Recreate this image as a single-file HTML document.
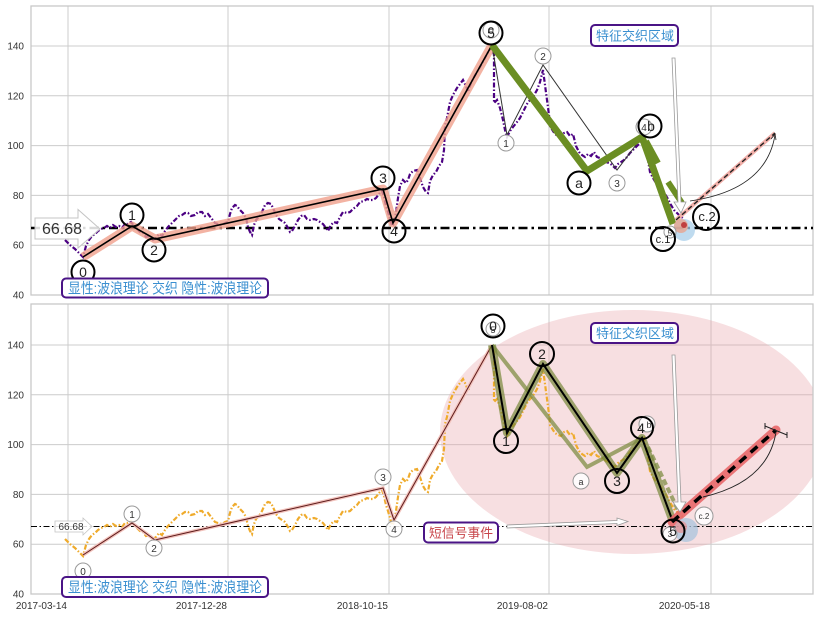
<!DOCTYPE html>
<html><head><meta charset="utf-8"><style>
html,body{margin:0;padding:0;background:#fff;}
svg{display:block;}
text{font-family:"Liberation Sans","Noto Sans CJK SC",sans-serif;}
</style></head><body>
<svg width="819" height="617" viewBox="0 0 819 617" xmlns="http://www.w3.org/2000/svg">
<defs>
<clipPath id="ct"><rect x="31" y="6" width="782" height="289"/></clipPath>
<clipPath id="cb"><rect x="31" y="304" width="782" height="290"/></clipPath>
</defs>
<rect width="819" height="617" fill="#fff"/>

<!-- ============ TOP AXES ============ -->
<g stroke="#cccccc" stroke-width="1">
<line x1="68" y1="6" x2="68" y2="295"/><line x1="228" y1="6" x2="228" y2="295"/><line x1="389" y1="6" x2="389" y2="295"/><line x1="549" y1="6" x2="549" y2="295"/><line x1="711" y1="6" x2="711" y2="295"/>
<line x1="31" y1="46" x2="813" y2="46"/><line x1="31" y1="95.8" x2="813" y2="95.8"/><line x1="31" y1="145.6" x2="813" y2="145.6"/><line x1="31" y1="195.4" x2="813" y2="195.4"/><line x1="31" y1="245.2" x2="813" y2="245.2"/>
</g>
<rect x="31" y="6" width="782" height="289" fill="none" stroke="#c8c8c8" stroke-width="1.3"/>
<g font-size="10" fill="#333" text-anchor="end">
<text x="24" y="49.5">140</text><text x="24" y="99.3">120</text><text x="24" y="149.1">100</text><text x="24" y="198.9">80</text><text x="24" y="248.7">60</text><text x="24" y="298.5">40</text>
</g>

<g clip-path="url(#ct)">
<line x1="31" y1="228" x2="813" y2="228" stroke="#000" stroke-width="2.5" stroke-dasharray="9,4,2.5,4"/>
<polyline fill="none" stroke="#4b0082" stroke-width="2.2" stroke-dasharray="5,2,1.5,2" points="65,240 70,245 75,249 80,254 83,257 86,246 89,240 92,236 95,234 98,231 101,229 104,228 107,226 110,228 113,225 116,227 119,226 122,228 125,224 128,224 131,222 134,226 137,229 140,232 143,233 146,237 150,236 153,240 156,238 159,234 162,236 165,231 168,227 172,223 176,219 179,216 182,215 185,213 188,213 191,216 195,215 198,212 202,212 205,216 208,214 212,219 215,223 218,224 222,225 225,223 228,222 230,214 232,208 235,205 237,206 240,210 243,213 246,218 248,227 250,232 252,235 254,225 256,220 259,217 262,212 265,205 268,203 271,204 273,208 276,215 279,219 282,221 285,223 288,228 290,232 292,231 295,226 298,220 301,216 304,215 307,219 310,220 314,219 317,220 320,222 323,224 326,228 328,231 331,225 334,222 337,223 340,217 343,212 347,213 350,212 353,209 357,206 360,202 364,201 367,199 370,200 373,200 376,198 379,194 382,191 384,197 386,206 388,212 390,219 392,226 394,224 396,212 398,198 400,186 403,180 406,183 408,180 410,174 413,171 417,170 420,178 423,187 426,192 428,193 430,181 433,175 436,172 439,166 442,162 444,150 445,125 447,118 450,102 453,95 457,88 460,84 463,80 466,86 468,92 471,83 474,77 477,72 480,67 484,60 487,54 490,49 492,46 494,55 494,70 494,90 494,103 497,100 500,108 503,120 505,130 507,137 510,131 513,127 517,122 520,118 523,112 527,104 530,100 533,97 537,90 540,82 543,70 545,85 547,100 549,115 550,126 553,131 555,134 558,136 561,137 564,133 567,132 570,136 573,134 576,146 579,152 582,155 585,157 588,154 591,156 594,152 597,157 600,158 603,160 606,162 609,163 612,165 615,168 618,164 621,162 624,160 627,157 630,153 633,150 636,147 639,144 642,141 644,139 646,150 648,160 650,172 653,178 656,183 659,185 662,190 665,194 668,199 671,205 674,210 677,213 680,216 683,218"/>
<polyline fill="none" stroke="#f0a08c" stroke-opacity="0.8" stroke-width="9" stroke-linejoin="round" points="83,257 132,226 155,239 383,189 393,223 492,45"/>
<polyline fill="none" stroke="#000" stroke-width="1.6" points="83,257 132,226 155,239 383,189 393,223 492,45"/>
<polyline fill="none" stroke="#333" stroke-width="1" points="492,45 507,135 543,65 617,170 642,137"/>
<polyline fill="none" stroke="#6b8e23" stroke-width="7" stroke-linejoin="miter" points="492,45 587,171 642,137 673,224"/>
<line x1="646" y1="141" x2="658" y2="163" stroke="#6b8e23" stroke-width="6"/>
<line x1="668" y1="182" x2="682" y2="203" stroke="#6b8e23" stroke-width="6"/>
<line x1="676" y1="220" x2="775" y2="133" stroke="#f2b0aa" stroke-width="4"/>
<line x1="676" y1="220" x2="775" y2="133" stroke="#222" stroke-width="1.4" stroke-dasharray="5,3"/>
<path d="M690,201 Q766,190 775,135" fill="none" stroke="#222" stroke-width="0.8"/>
<path d="M771,139 L775,134 L776,140" fill="none" stroke="#222" stroke-width="0.8"/>
<polygon points="672,58 675,58 681,202 686,202 681,213 674,202 678,202" fill="#fff" stroke="#9a9a9a" stroke-width="0.8"/>
<circle cx="684" cy="230" r="11" fill="#a9cfe9" fill-opacity="0.75"/>
<circle cx="681" cy="226" r="7" fill="#e8a48e" fill-opacity="0.8"/>
<circle cx="684" cy="225" r="3" fill="#c04040"/>
<g fill="#fff" fill-opacity="0.85" stroke="#999" stroke-width="1">
<circle cx="506" cy="143" r="8"/><circle cx="543" cy="56" r="8"/><circle cx="617" cy="183" r="8"/><circle cx="644" cy="127" r="8"/><circle cx="670" cy="232" r="6"/><circle cx="491" cy="30" r="8"/>
</g>
<g font-size="10" fill="#333" text-anchor="middle">
<text x="506" y="147">1</text><text x="543" y="60">2</text><text x="617" y="187">3</text><text x="644" y="131">4</text><text x="670" y="236" font-size="8">5</text><text x="491" y="34">0</text>
</g>
<g fill="none" stroke="#000" stroke-width="2">
<circle cx="83" cy="272" r="11.5"/><circle cx="132" cy="215" r="11.5"/><circle cx="154" cy="250" r="11.5"/><circle cx="383" cy="178" r="11.5"/><circle cx="394" cy="231" r="11.5"/><circle cx="491" cy="33" r="11.5"/>
<circle cx="579" cy="183" r="11.5"/><circle cx="650" cy="126" r="11.5"/><circle cx="663" cy="239" r="12"/><circle cx="706" cy="217" r="13"/>
</g>
<g font-size="14" fill="#222" text-anchor="middle">
<text x="83" y="277">0</text><text x="132" y="220">1</text><text x="154" y="255">2</text><text x="383" y="183">3</text><text x="394" y="236">4</text><text x="491" y="38">5</text>
<text x="579" y="188">a</text><text x="651" y="131">b</text><text x="663" y="243" font-size="11">c.1</text><text x="707" y="221" font-size="13">c.2</text>
</g>
</g>
<rect x="62" y="278.5" width="206" height="19" rx="4" fill="#fff" stroke="#4a1486" stroke-width="2"/>
<text x="68" y="293.5" font-size="14.5" fill="#3a8fd0" textLength="194" lengthAdjust="spacingAndGlyphs">显性:波浪理论 交织 隐性:波浪理论</text>
<rect x="591" y="25" width="87" height="21" rx="4" fill="#fff" stroke="#4a1486" stroke-width="2"/>
<text x="596" y="40.5" font-size="13" fill="#3a8fd0" textLength="78" lengthAdjust="spacingAndGlyphs">特征交织区域</text>
<polygon points="35,218 78,218 78,209.5 100,229 78,248 78,239 35,239" fill="#fff" fill-opacity="0.85" stroke="#c4c4c4" stroke-width="1"/>
<text x="62" y="234" font-size="16" fill="#333" text-anchor="middle">66.68</text>

<!-- ============ BOTTOM AXES ============ -->
<g stroke="#cccccc" stroke-width="1">
<line x1="68" y1="304" x2="68" y2="594"/><line x1="228" y1="304" x2="228" y2="594"/><line x1="389" y1="304" x2="389" y2="594"/><line x1="549" y1="304" x2="549" y2="594"/><line x1="711" y1="304" x2="711" y2="594"/>
<line x1="31" y1="345" x2="813" y2="345"/><line x1="31" y1="394.8" x2="813" y2="394.8"/><line x1="31" y1="444.6" x2="813" y2="444.6"/><line x1="31" y1="494.4" x2="813" y2="494.4"/><line x1="31" y1="544.2" x2="813" y2="544.2"/>
</g>
<g clip-path="url(#cb)">
<ellipse cx="633" cy="432" rx="193" ry="122" fill="#e9a2aa" fill-opacity="0.35"/>
</g>
<rect x="31" y="304" width="782" height="290" fill="none" stroke="#c8c8c8" stroke-width="1.3"/>
<g font-size="10" fill="#333" text-anchor="end">
<text x="24" y="348.5">140</text><text x="24" y="398.3">120</text><text x="24" y="448.1">100</text><text x="24" y="497.9">80</text><text x="24" y="547.7">60</text><text x="24" y="597.5">40</text>
</g>
<g font-size="10" fill="#333" text-anchor="end">
<text x="67" y="609">2017-03-14</text><text x="227" y="609">2017-12-28</text><text x="388" y="609">2018-10-15</text><text x="548" y="609">2019-08-02</text><text x="710" y="609">2020-05-18</text>
</g>

<g clip-path="url(#cb)">
<line x1="31" y1="526.5" x2="813" y2="526.5" stroke="#000" stroke-width="1" stroke-dasharray="6,2.5,1.5,2.5"/>
<g transform="translate(0,299)">
<polyline fill="none" stroke="#efab2c" stroke-width="2.2" stroke-dasharray="5,2,1.5,2" points="65,240 70,245 75,249 80,254 83,257 86,246 89,240 92,236 95,234 98,231 101,229 104,228 107,226 110,228 113,225 116,227 119,226 122,228 125,224 128,224 131,222 134,226 137,229 140,232 143,233 146,237 150,236 153,240 156,238 159,234 162,236 165,231 168,227 172,223 176,219 179,216 182,215 185,213 188,213 191,216 195,215 198,212 202,212 205,216 208,214 212,219 215,223 218,224 222,225 225,223 228,222 230,214 232,208 235,205 237,206 240,210 243,213 246,218 248,227 250,232 252,235 254,225 256,220 259,217 262,212 265,205 268,203 271,204 273,208 276,215 279,219 282,221 285,223 288,228 290,232 292,231 295,226 298,220 301,216 304,215 307,219 310,220 314,219 317,220 320,222 323,224 326,228 328,231 331,225 334,222 337,223 340,217 343,212 347,213 350,212 353,209 357,206 360,202 364,201 367,199 370,200 373,200 376,198 379,194 382,191 384,197 386,206 388,212 390,219 392,226 394,224 396,212 398,198 400,186 403,180 406,183 408,180 410,174 413,171 417,170 420,178 423,187 426,192 428,193 430,181 433,175 436,172 439,166 442,162 444,150 445,125 447,118 450,102 453,95 457,88 460,84 463,80 466,86 468,92 471,83 474,77 477,72 480,67 484,60 487,54 490,49 492,46 494,55 494,70 494,90 494,103 497,100 500,108 503,120 505,130 507,137 510,131 513,127 517,122 520,118 523,112 527,104 530,100 533,97 537,90 540,82 543,70 545,85 547,100 549,115 550,126 553,131 555,134 558,136 561,137 564,133 567,132 570,136 573,134 576,146 579,152 582,155 585,157 588,154 591,156 594,152 597,157 600,158 603,160 606,162 609,163 612,165 615,168 618,164 621,162 624,160 627,157 630,153 633,150 636,147 639,144 642,141 644,139 646,150 648,160 650,172 653,178 656,183 659,185 662,190 665,194 668,199 671,205 674,210 677,213 680,216 683,218"/>
</g>
<polyline fill="none" stroke="#f2c2bc" stroke-width="3.5" points="83,555 132,523 155,540 383,488 394,520 492,345"/>
<polyline fill="none" stroke="#5c1a1a" stroke-width="1" points="83,555 132,523 155,540 383,488 394,520 492,345"/>
<polyline fill="none" stroke="#77883a" stroke-opacity="0.7" stroke-width="4" points="492,345 587,467 642,438"/>
<line x1="648" y1="447" x2="678" y2="510" stroke="#77883a" stroke-opacity="0.7" stroke-width="4" stroke-dasharray="6,3"/>
<polyline fill="none" stroke="#77883a" stroke-opacity="0.7" stroke-width="8" stroke-linejoin="round" points="492,345 507,433 543,364 617,473 642,438 673,522"/>
<polyline fill="none" stroke="#000" stroke-width="2" points="492,345 507,433 543,364 617,473 642,438 673,522"/>
<line x1="672" y1="522" x2="776" y2="430" stroke="#e8686a" stroke-opacity="0.9" stroke-width="9" stroke-linecap="round"/>
<line x1="672" y1="522" x2="776" y2="430" stroke="#000" stroke-width="3.5" stroke-dasharray="9,6"/>
<path d="M703,497 Q768,482 776,432" fill="none" stroke="#222" stroke-width="0.9"/>
<line x1="765" y1="426" x2="787" y2="435" stroke="#222" stroke-width="1"/>
<line x1="765" y1="423" x2="765" y2="429" stroke="#222" stroke-width="1"/>
<line x1="787" y1="432" x2="787" y2="438" stroke="#222" stroke-width="1"/>
<polygon points="672,355 675,355 681,502 686,502 680,512 673,502 678,502" fill="#fff" stroke="#9a9a9a" stroke-width="0.8"/>
<polygon points="507,525 617,520.5 617,518 628,521.5 617,525.5 617,523.5 507,528" fill="#fff" stroke="#9a9a9a" stroke-width="0.8"/>
<circle cx="686" cy="530" r="12" fill="#a9c4dc" fill-opacity="0.75"/>
<circle cx="681" cy="527" r="6" fill="#e89090" fill-opacity="0.7"/>
<g fill="#fff" fill-opacity="0.85" stroke="#999" stroke-width="1">
<circle cx="83" cy="571" r="8"/><circle cx="132" cy="514" r="8"/><circle cx="154" cy="548" r="8"/><circle cx="383" cy="477" r="8"/><circle cx="394" cy="529" r="8"/>
<circle cx="581" cy="481" r="8"/><circle cx="647" cy="424" r="8"/><circle cx="704" cy="516" r="9"/><circle cx="670" cy="534" r="7"/><circle cx="493" cy="329" r="7"/>
</g>
<g font-size="10" fill="#333" text-anchor="middle">
<text x="83" y="575">0</text><text x="132" y="518">1</text><text x="154" y="552">2</text><text x="383" y="481">3</text><text x="394" y="533">4</text>
<text x="581" y="485" font-size="9">a</text><text x="649" y="428" font-size="9">b</text><text x="704" y="519" font-size="8">c.2</text><text x="670" y="537" font-size="8">3</text><text x="493" y="333" font-size="9">5</text>
</g>
<g fill="none" stroke="#000" stroke-width="2">
<circle cx="493" cy="326" r="11.5"/><circle cx="506" cy="441" r="12"/><circle cx="542" cy="354" r="12"/><circle cx="617" cy="481" r="12"/><circle cx="642" cy="428" r="11"/><circle cx="673" cy="531" r="11.5"/>
</g>
<g font-size="14" fill="#222" text-anchor="middle">
<text x="493" y="331">0</text><text x="506" y="446">1</text><text x="542" y="359">2</text><text x="617" y="486">3</text><text x="641" y="433">4</text><text x="673" y="536">5</text>
</g>
</g>
<rect x="62" y="577" width="206" height="20" rx="4" fill="#fff" stroke="#4a1486" stroke-width="2"/>
<text x="68" y="592.5" font-size="14.5" fill="#3a8fd0" textLength="194" lengthAdjust="spacingAndGlyphs">显性:波浪理论 交织 隐性:波浪理论</text>
<rect x="591" y="323" width="87" height="20" rx="4" fill="#fff" stroke="#4a1486" stroke-width="2"/>
<text x="596" y="338" font-size="13" fill="#3a8fd0" textLength="78" lengthAdjust="spacingAndGlyphs">特征交织区域</text>
<rect x="424" y="522.5" width="74" height="20" rx="4" fill="#fff" stroke="#4a1486" stroke-width="2"/>
<text x="429" y="537.5" font-size="13" fill="#c8454a" textLength="64" lengthAdjust="spacingAndGlyphs">短信号事件</text>
<polygon points="55,521 83,521 83,518 92,526.5 83,535 83,532 55,532" fill="#fff" fill-opacity="0.85" stroke="#c4c4c4" stroke-width="0.8"/>
<text x="71" y="530" font-size="10" fill="#333" text-anchor="middle">66.68</text>
</svg>
</body></html>
